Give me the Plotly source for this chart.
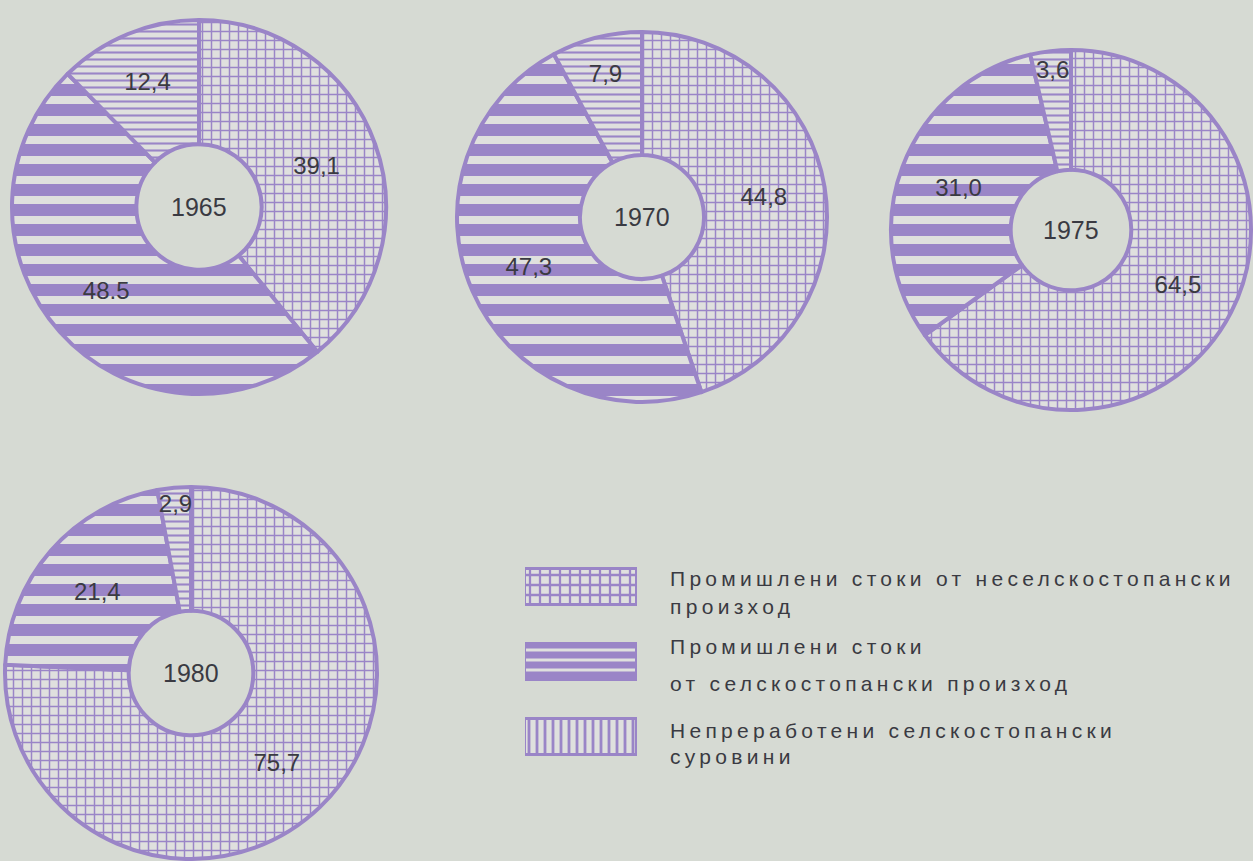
import plotly.graph_objects as go

# ---------------- data ----------------
categories = [
    "Промишлени стоки от неселскостопански произход",
    "Промишлени стоки от селскостопански произход",
    "Непреработени селскостопански суровини",
]
years = ["1965", "1970", "1975", "1980"]
values_1965 = [39.1, 48.5, 12.4]
values_1970 = [44.8, 47.3, 7.9]
values_1975 = [64.5, 31.0, 3.6]
values_1980 = [75.7, 21.4, 2.9]
labels_1965 = ["39,1", "48.5", "12,4"]
labels_1970 = ["44,8", "47,3", "7,9"]
labels_1975 = ["64,5", "31,0", "3,6"]
labels_1980 = ["75,7", "21,4", "2,9"]
legend_lines = [
    ["Промишлени стоки от неселскостопански", "произход"],
    ["Промишлени стоки", "от селскостопански произход"],
    ["Непреработени селскостопански", "суровини"],
]

# ---------------- style ----------------
W, H = 1253, 861
BG = "#d6dad3"
PURPLE = "#9a85c7"
LIGHT = "#dfe0de"
TEXT = "#3a3a42"
FONT = "Liberation Sans"

pie_shapes = ["+", "-", "-"]
pie_sizes = [9, 20, 7]
pie_solid = [0.3, 0.6, 0.3]

legend_shapes = ["+", "-", "|"]
legend_sizes = [10, 10, 8]
legend_solid = [0.4, 0.7, 0.35]
legend_line_shift = [[9, -19], [16, -21], [7, -19]]  # px offsets of text lines

def px_domain(cx, cy, r):
    x0 = max(0.0, (cx - r) / W)
    x1 = min(1.0, (cx + r) / W)
    y0 = max(0.0, (H - cy - r) / H)
    y1 = min(1.0, (H - cy + r) / H)
    return dict(x=[x0, x1], y=[y0, y1])

pie_geom = [(199, 207, 187), (642, 217, 185), (1071, 230, 180), (191, 673, 186)]
all_values = [values_1965, values_1970, values_1975, values_1980]
all_labels = [labels_1965, labels_1970, labels_1975, labels_1980]

fig = go.Figure()
for yr, vals, labs, (cx, cy, r) in zip(years, all_values, all_labels, pie_geom):
    fig.add_trace(go.Pie(
        values=vals,
        labels=categories,
        text=labs,
        textinfo="text",
        textposition="inside",
        insidetextorientation="horizontal",
        sort=False,
        direction="clockwise",
        rotation=0,
        hole=0.335,
        domain=px_domain(cx, cy, r),
        showlegend=False,
        hoverinfo="label+value",
        textfont=dict(family=FONT, size=24, color=TEXT),
        marker=dict(
            colors=[LIGHT] * 3,
            line=dict(color=PURPLE, width=4),
            pattern=dict(shape=pie_shapes, size=pie_sizes, solidity=pie_solid,
                         fgcolor=PURPLE, bgcolor=LIGHT, fgopacity=1,
                         fillmode="replace"),
        ),
        name=yr,
    ))
    fig.add_annotation(text=yr, x=cx / W, y=(H - cy) / H, xref="paper", yref="paper",
                       xanchor="center", yanchor="middle",
                       showarrow=False, font=dict(family=FONT, size=25, color=TEXT))

# ---------------- legend built from bars ----------------
for i, cat in enumerate(categories):
    fig.add_trace(go.Bar(
        x=[1], y=[2 - i], base=0, orientation="h", width=0.47,
        xaxis="x", yaxis="y", showlegend=False, hoverinfo="skip",
        marker=dict(color=LIGHT, line=dict(color=PURPLE, width=3),
                    pattern=dict(shape=legend_shapes[i], size=legend_sizes[i],
                                 solidity=legend_solid[i], fgcolor=PURPLE,
                                 bgcolor=LIGHT, fgopacity=1, fillmode="replace")),
        name=cat,
    ))
    for j, line in enumerate(legend_lines[i]):
        fig.add_annotation(text=line, x=0, y=2 - i, yshift=legend_line_shift[i][j],
                           xref="x domain", yref="y", xanchor="left", yanchor="middle",
                           xshift=143, showarrow=False,
                           font=dict(family=FONT, size=21, color=TEXT))

fig.update_layout(
    width=W, height=H,
    margin=dict(l=0, r=0, t=0, b=0),
    paper_bgcolor=BG, plot_bgcolor="rgba(0,0,0,0)",
    uniformtext=dict(minsize=24, mode="show"),
    xaxis=dict(domain=[525 / W, 637 / W], range=[0, 1], visible=False, fixedrange=True),
    yaxis=dict(domain=[(H - 765) / H, (H - 560) / H], range=[-0.373, 2.36],
               visible=False, fixedrange=True),
    bargap=0,
)

# widen the legend lettering (as in the printed original), keeping lines left-aligned
post = (
    "document.body.style.margin='0';document.body.style.overflow='hidden';"
    "document.body.style.background='" + BG + "';"
    "document.querySelectorAll('.annotation-text').forEach(function(t){"
    " if(/^\\d/.test(t.textContent)) return;"
    " var w0=t.getBBox().width; t.style.letterSpacing='4.3px';"
    " var w1=t.getBBox().width; var dx=(w1-w0)/2;"
    " t.setAttribute('transform',(t.getAttribute('transform')||'')+' translate('+dx+',0)');"
    "});"
)

fig.write_html("out.html", config={"displayModeBar": False}, post_script=post)
